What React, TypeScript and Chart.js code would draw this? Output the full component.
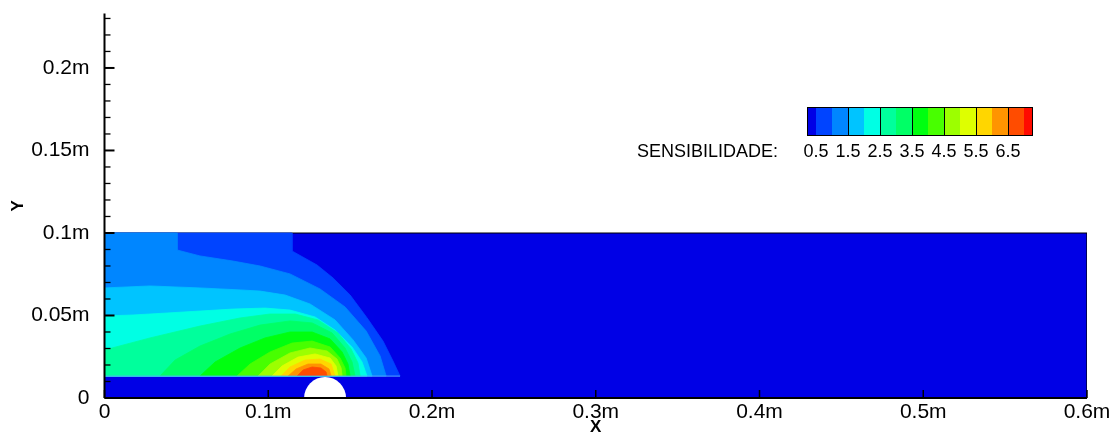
import React, { useEffect, useRef } from 'react';
import { Chart, registerables } from 'chart.js';

Chart.register(...registerables);

// ---- axes ----
const X_TICKS = [0, 0.1, 0.2, 0.3, 0.4, 0.5, 0.6];
const X_TICK_LABELS = ['0', '0.1m', '0.2m', '0.3m', '0.4m', '0.5m', '0.6m'];
const Y_TICKS = [0, 0.05, 0.1, 0.15, 0.2];
const Y_TICK_LABELS = ['0', '0.05m', '0.1m', '0.15m', '0.2m'];
const Y_MINOR_TICKS = [0.01, 0.02, 0.03, 0.04, 0.06, 0.07, 0.08, 0.09, 0.11, 0.12, 0.13, 0.14, 0.16, 0.17, 0.18, 0.19, 0.21, 0.22, 0.23];
const X_TITLE = 'X';
const Y_TITLE = 'Y';

// ---- contour legend ----
const LEVELS = [0.5, 1, 1.5, 2, 2.5, 3, 3.5, 4, 4.5, 5, 5.5, 6, 6.5, 7];
const LEVEL_COLORS = [
  '#0000E6', '#0044FF', '#0086FF', '#00C4FF', '#00FFE4', '#00FF9C', '#00FF66',
  '#00FF10', '#48FF00', '#9CFF00', '#DEFF00', '#FFD600', '#FF9400', '#FF4C00', '#FF0A00',
];
const LEGEND_LABELS = [0.5, 1.5, 2.5, 3.5, 4.5, 5.5, 6.5];
const LEGEND_TITLE = 'SENSIBILIDADE:';

// ---- geometry / contour bands (x, y in metres) ----
const DOMAIN = [[0, 0], [0.6, 0], [0.6, 0.1], [0, 0.1]];
const HOLE_CENTER = [0.1347, 0];
const STRIP_EDGE = [[0, 0.0133], [0.1805, 0.0133]];

const BAND_1 = [[0, 0.1], [0.1145, 0.1], [0.1145, 0.0891], [0.1298, 0.0806], [0.1396, 0.0727], [0.15, 0.0624], [0.1604, 0.0485], [0.1701, 0.0345], [0.1762, 0.0224], [0.1805, 0.0133], [0, 0.0133]];
const BAND_2 = [[0, 0.1], [0.0443, 0.1], [0.0443, 0.0897], [0.0583, 0.0861], [0.0785, 0.083], [0.095, 0.08], [0.1133, 0.0752], [0.1316, 0.0661], [0.1469, 0.0552], [0.1598, 0.0406], [0.1683, 0.0255], [0.172, 0.0133], [0, 0.0133]];
const BAND_3 = [[0, 0.0667], [0.0278, 0.0679], [0.0583, 0.0667], [0.0828, 0.0655], [0.095, 0.0648], [0.1103, 0.0624], [0.1255, 0.057], [0.1408, 0.0473], [0.1518, 0.0352], [0.1598, 0.0242], [0.1634, 0.0133], [0, 0.0133]];
const BAND_4 = [[0, 0.0497], [0.0174, 0.0503], [0.0382, 0.0515], [0.0583, 0.0527], [0.0785, 0.0539], [0.098, 0.0545], [0.1133, 0.0533], [0.1286, 0.0491], [0.1408, 0.0412], [0.1512, 0.0309], [0.1573, 0.0218], [0.1603, 0.0133], [0, 0.0133]];
const BAND_5 = [[0, 0.0291], [0.0278, 0.0364], [0.0583, 0.0436], [0.0828, 0.0485], [0.1011, 0.0509], [0.1164, 0.0509], [0.1304, 0.0473], [0.1426, 0.0394], [0.1506, 0.0297], [0.1548, 0.0212], [0.1561, 0.0133], [0, 0.0133]];
const BAND_6 = [[0.0339, 0.0133], [0.0431, 0.023], [0.0583, 0.0315], [0.0767, 0.0388], [0.095, 0.0442], [0.1133, 0.0467], [0.1268, 0.0455], [0.139, 0.0394], [0.1469, 0.0303], [0.1512, 0.0218], [0.153, 0.0133]];
const BAND_7 = [[0.0583, 0.0133], [0.0675, 0.0218], [0.0828, 0.0303], [0.098, 0.0364], [0.1133, 0.04], [0.1268, 0.04], [0.1378, 0.0358], [0.1451, 0.0279], [0.1487, 0.0206], [0.15, 0.0133]];
const BAND_8 = [[0.0809, 0.0133], [0.0889, 0.0206], [0.1011, 0.0279], [0.1145, 0.0333], [0.1268, 0.0345], [0.1378, 0.0309], [0.1439, 0.0242], [0.1469, 0.0182], [0.1475, 0.0133]];
const BAND_9 = [[0.0938, 0.0133], [0.1011, 0.0206], [0.1133, 0.0273], [0.1255, 0.0303], [0.1359, 0.0285], [0.142, 0.0236], [0.1445, 0.0182], [0.1451, 0.0133]];
const BAND_10 = [[0.1023, 0.0133], [0.1084, 0.0194], [0.1182, 0.0248], [0.1286, 0.0267], [0.1378, 0.0242], [0.1414, 0.0194], [0.1426, 0.0133]];
const BAND_11 = [[0.1078, 0.0133], [0.1133, 0.0188], [0.1225, 0.023], [0.1316, 0.0236], [0.1384, 0.0206], [0.1408, 0.0133]];
const BAND_12 = [[0.1121, 0.0133], [0.117, 0.0176], [0.1243, 0.0206], [0.1322, 0.0206], [0.1371, 0.0176], [0.1384, 0.0133]];
const BAND_13 = [[0.1176, 0.0133], [0.1213, 0.017], [0.1268, 0.0188], [0.1322, 0.0182], [0.1353, 0.0158], [0.1359, 0.0133]];

const BANDS = [BAND_1, BAND_2, BAND_3, BAND_4, BAND_5, BAND_6, BAND_7, BAND_8, BAND_9, BAND_10, BAND_11, BAND_12, BAND_13];

const FONT = "'Liberation Sans', Arial, Helvetica, sans-serif";

const toPts = (arr: number[][]) => arr.map(([x, y]) => ({ x, y }));

const axisPlugin = {
  id: 'tecAxes',
  afterDatasetsDraw(chart: any) {
    const { ctx, chartArea } = chart;
    const xs = chart.scales.x;
    const ys = chart.scales.y;
    const left = chartArea.left;
    const bottom = chartArea.bottom;
    ctx.save();
    ctx.strokeStyle = '#000';
    ctx.lineWidth = 2;
    ctx.beginPath();
    ctx.moveTo(left, bottom);
    ctx.lineTo(left, chartArea.top);
    ctx.stroke();
    ctx.beginPath();
    ctx.moveTo(left, bottom);
    ctx.lineTo(xs.getPixelForValue(DOMAIN[1][0]), bottom);
    ctx.stroke();
    Y_TICKS.forEach((v) => {
      const p = ys.getPixelForValue(v);
      ctx.lineWidth = 2;
      ctx.beginPath();
      ctx.moveTo(left, p);
      ctx.lineTo(left + 10, p);
      ctx.stroke();
    });
    Y_MINOR_TICKS.forEach((v) => {
      const p = ys.getPixelForValue(v);
      ctx.lineWidth = 1.3;
      ctx.beginPath();
      ctx.moveTo(left, p);
      ctx.lineTo(left + 6, p);
      ctx.stroke();
    });
    X_TICKS.forEach((v) => {
      const p = xs.getPixelForValue(v);
      ctx.lineWidth = 1.5;
      ctx.beginPath();
      ctx.moveTo(p, bottom);
      ctx.lineTo(p, bottom - 8);
      ctx.stroke();
    });
    ctx.restore();
  },
};

const legendPlugin = {
  id: 'contourLegend',
  afterDraw(chart: any) {
    const { ctx } = chart;
    const boxLeft = 807;
    const boxRight = 1032;
    const boxTop = 107;
    const boxBottom = 135;
    const px = (v: number) => 816 + (v - LEVELS[0]) * 32;
    ctx.save();
    for (let i = 0; i < LEVEL_COLORS.length; i++) {
      const x0 = i === 0 ? boxLeft : px(LEVELS[i - 1]);
      const x1 = i === LEVEL_COLORS.length - 1 ? boxRight : px(LEVELS[i]);
      ctx.fillStyle = LEVEL_COLORS[i];
      ctx.fillRect(x0, boxTop, x1 - x0 + 0.5, boxBottom - boxTop);
    }
    ctx.strokeStyle = '#000';
    ctx.lineWidth = 1;
    LEGEND_LABELS.slice(1).forEach((v) => {
      const x = Math.round(px(v)) + 0.5;
      ctx.beginPath();
      ctx.moveTo(x, boxTop);
      ctx.lineTo(x, boxBottom);
      ctx.stroke();
    });
    ctx.strokeRect(boxLeft + 0.5, boxTop + 0.5, boxRight - boxLeft, boxBottom - boxTop);
    ctx.fillStyle = '#000';
    ctx.font = `18px ${FONT}`;
    ctx.textBaseline = 'middle';
    ctx.textAlign = 'left';
    ctx.fillText(LEGEND_TITLE, 637, 152);
    ctx.textAlign = 'center';
    LEGEND_LABELS.forEach((v) => {
      ctx.fillText(String(v), px(v), 152);
    });
    ctx.restore();
  },
};

export default function App() {
  const ref = useRef<HTMLCanvasElement | null>(null);

  useEffect(() => {
    if (!ref.current) return;
    const datasets: any[] = [];
    datasets.push({
      type: 'line',
      data: toPts(DOMAIN),
      fill: 'shape',
      backgroundColor: LEVEL_COLORS[0],
      borderColor: '#000',
      borderWidth: 1.2,
      pointRadius: 0,
      tension: 0,
      order: 100,
    });
    BANDS.forEach((band, i) => {
      datasets.push({
        type: 'line',
        data: toPts(band),
        fill: 'shape',
        backgroundColor: LEVEL_COLORS[i + 1],
        borderColor: LEVEL_COLORS[i + 1],
        borderWidth: 0.8,
        pointRadius: 0,
        tension: 0,
        order: 99 - i,
      });
    });
    datasets.push({
      type: 'line',
      data: toPts(STRIP_EDGE),
      fill: false,
      borderColor: 'rgba(90,170,255,0.75)',
      borderWidth: 1.2,
      pointRadius: 0,
      tension: 0,
      order: 1,
    });
    datasets.push({
      type: 'scatter',
      data: [{ x: HOLE_CENTER[0], y: HOLE_CENTER[1] }],
      pointRadius: 21,
      pointBackgroundColor: '#ffffff',
      pointBorderWidth: 0,
      pointBorderColor: '#ffffff',
      showLine: false,
      clip: 0,
      order: 0,
    });

    const chart = new Chart(ref.current, {
      type: 'line',
      data: { datasets },
      plugins: [axisPlugin, legendPlugin],
      options: {
        animation: false,
        responsive: false,
        maintainAspectRatio: false,
        events: [],
        layout: { autoPadding: false, padding: { top: 13.5, right: 26, left: 0, bottom: 0 } },
        plugins: {
          legend: { display: false },
          tooltip: { enabled: false },
        },
        scales: {
          x: {
            type: 'linear',
            min: X_TICKS[0],
            max: X_TICKS[X_TICKS.length - 1],
            grid: { display: false, drawTicks: true, tickLength: 2 },
            border: { display: false },
            afterBuildTicks: (s: any) => {
              s.ticks = X_TICKS.map((v) => ({ value: v }));
            },
            afterFit: (s: any) => {
              s.height = 42;
            },
            ticks: {
              autoSkip: false,
              maxRotation: 0,
              padding: 0,
              color: '#000',
              font: { family: FONT, size: 21 },
              callback: (v: any) => X_TICK_LABELS[X_TICKS.indexOf(Number(v))],
            },
            title: {
              display: true,
              text: X_TITLE,
              color: '#000',
              font: { family: FONT, size: 17, weight: 'bold' },
              padding: { top: 0, bottom: 2 },
            },
          },
          y: {
            type: 'linear',
            min: 0,
            max: 0.233,
            grid: { display: false, drawTicks: true, tickLength: 15 },
            border: { display: false },
            afterBuildTicks: (s: any) => {
              s.ticks = Y_TICKS.map((v) => ({ value: v }));
            },
            afterFit: (s: any) => {
              s.width = 104.5;
            },
            ticks: {
              autoSkip: false,
              padding: 0,
              color: '#000',
              font: { family: FONT, size: 21 },
              callback: (v: any) => Y_TICK_LABELS[Y_TICKS.indexOf(Number(v))],
            },
            title: {
              display: true,
              text: Y_TITLE,
              color: '#000',
              font: { family: FONT, size: 17, weight: 'bold' },
              padding: { top: 8, bottom: 0 },
            },
          },
        },
      } as any,
    });
    return () => chart.destroy();
  }, []);

  return (
    <div style={{ position: 'fixed', left: 0, top: 0, width: 1113, height: 432, overflow: 'hidden', background: '#fff' }}>
      <canvas ref={ref} width={1113} height={440} style={{ display: 'block', width: 1113, height: 440 }} />
    </div>
  );
}
